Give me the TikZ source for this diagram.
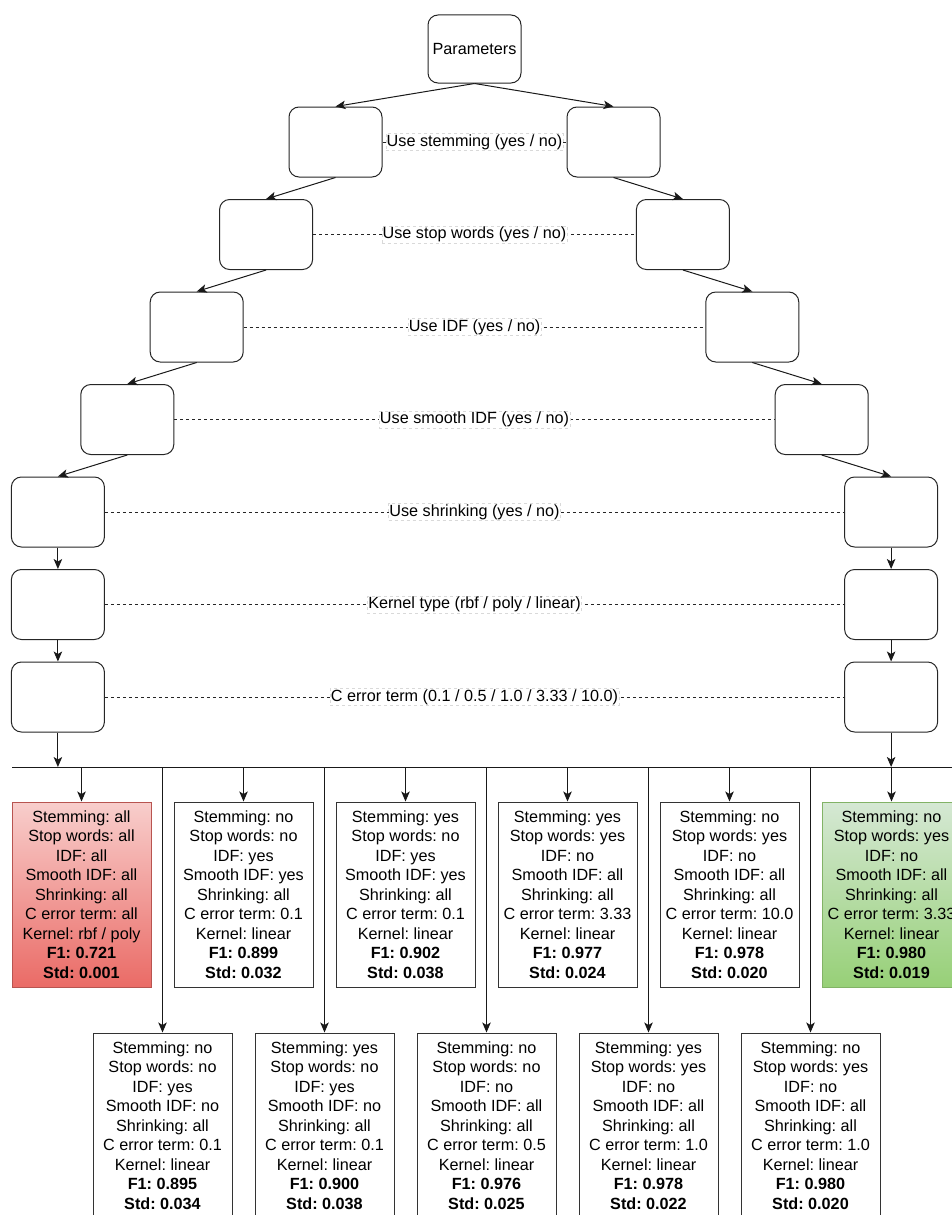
\documentclass[tikz,border=0pt]{standalone}
\usepackage{fontspec}
\setmainfont{Liberation Sans}
\usetikzlibrary{arrows.meta}
\frenchspacing

\definecolor{badtop}{HTML}{F8CECC}
\definecolor{badbot}{HTML}{EA6B66}
\definecolor{badline}{HTML}{B85450}
\definecolor{goodtop}{HTML}{D5E8D4}
\definecolor{goodbot}{HTML}{97D077}
\definecolor{goodline}{HTML}{82B366}

% Text of one result box
\newcommand\restxt[9]{Stemming: #1\\Stop words: #2\\IDF: #3\\Smooth IDF: #4\\Shrinking: #5\\C error term: #6\\Kernel: #7\\\textbf{F1: #8}\\\textbf{Std: #9}}

\begin{document}
\begin{tikzpicture}[x=1pt,y=-1pt,
  txt/.style={font=\fontsize{16.2}{19.44}\selectfont},
  choice/.style={draw=black!85, line width=1pt, rounded corners=10pt,
    minimum width=93pt, minimum height=70pt, inner sep=0pt, fill=white, txt},
  result/.style={draw=black!80, line width=1pt, minimum width=139pt,
    minimum height=185pt, inner sep=0pt, align=center, fill=white, txt},
  worst/.style={result, draw=badline, top color=badtop, bottom color=badbot},
  best/.style={result, draw=goodline, top color=goodtop, bottom color=goodbot},
  link/.style={draw=black!90, line width=1pt, -{Stealth[length=10pt,width=8.5pt,inset=2.5pt]}},
  guide/.style={draw=black!85, line width=0.9pt, dash pattern=on 3pt off 3pt},
  tag/.style={fill=white, draw=black!15, line width=0.5pt, inner xsep=0.8pt, inner ysep=1pt, txt},
  bus/.style={draw=black!90, line width=1pt}
]
\useasboundingbox (0,0) rectangle (951,1215);

% Root
\node[choice, minimum height=68pt] (P) at (474.5,49) {Parameters};

% Two branches of parameter choices
\node[choice] (L1) at (335.5,142) {};
\node[choice] (R1) at (613.5,142) {};
\node[choice] (L2) at (266.1,234.5) {};
\node[choice] (R2) at (682.9,234.5) {};
\node[choice] (L3) at (196.7,327) {};
\node[choice] (R3) at (752.3,327) {};
\node[choice] (L4) at (127.3,419.5) {};
\node[choice] (R4) at (821.7,419.5) {};
\node[choice] (L5) at (57.9,512) {};
\node[choice] (R5) at (891.1,512) {};
\node[choice] (L6) at (57.9,604.5) {};
\node[choice] (R6) at (891.1,604.5) {};
\node[choice] (L7) at (57.9,697) {};
\node[choice] (R7) at (891.1,697) {};

% Arrows down both branches
\draw[link] (P.south) -- (L1.north);
\draw[link] (P.south) -- (R1.north);
\foreach \a/\b in {1/2,2/3,3/4,4/5,5/6,6/7}{
  \draw[link] (L\a.south) -- (L\b.north);
  \draw[link] (R\a.south) -- (R\b.north);
}

% Dashed guides with the parameter names
\draw[guide] (L1.east) -- node[tag] {Use stemming (yes / no)} (R1.west);
\draw[guide] (L2.east) -- node[tag] {Use stop words (yes / no)} (R2.west);
\draw[guide] (L3.east) -- node[tag] {Use IDF (yes / no)} (R3.west);
\draw[guide] (L4.east) -- node[tag] {Use smooth IDF (yes / no)} (R4.west);
\draw[guide] (L5.east) -- node[tag] {Use shrinking (yes / no)} (R5.west);
\draw[guide] (L6.east) -- node[tag] {Kernel type (rbf / poly / linear)} (R6.west);
\draw[guide] (L7.east) -- node[tag] {C error term (0.1 / 0.5 / 1.0 / 3.33 / 10.0)} (R7.west);

% Distribution line
\coordinate (busW) at (12,767);
\coordinate (busE) at (960,767);
\draw[bus] (busW) -- (busE);
\draw[link] (L7.south) -- (L7.south |- busW);
\draw[link] (R7.south) -- (R7.south |- busW);

% Results, upper row
\node[worst]  (T1) at (81.5,894.5)  {\restxt{all}{all}{all}{all}{all}{all}{rbf / poly}{0.721}{0.001}};
\node[result] (T2) at (243.5,894.5) {\restxt{no}{no}{yes}{yes}{all}{0.1}{linear}{0.899}{0.032}};
\node[result] (T3) at (405.5,894.5) {\restxt{yes}{no}{yes}{yes}{all}{0.1}{linear}{0.902}{0.038}};
\node[result] (T4) at (567.5,894.5) {\restxt{yes}{yes}{no}{all}{all}{3.33}{linear}{0.977}{0.024}};
\node[result] (T5) at (729.5,894.5) {\restxt{no}{yes}{no}{all}{all}{10.0}{linear}{0.978}{0.020}};
\node[best]   (T6) at (891.5,894.5) {\restxt{no}{yes}{no}{all}{all}{3.33}{linear}{0.980}{0.019}};

% Results, lower row
\node[result] (B1) at (162.5,1125.5) {\restxt{no}{no}{yes}{no}{all}{0.1}{linear}{0.895}{0.034}};
\node[result] (B2) at (324.5,1125.5) {\restxt{yes}{no}{yes}{no}{all}{0.1}{linear}{0.900}{0.038}};
\node[result] (B3) at (486.5,1125.5) {\restxt{no}{no}{no}{all}{all}{0.5}{linear}{0.976}{0.025}};
\node[result] (B4) at (648.5,1125.5) {\restxt{yes}{yes}{no}{all}{all}{1.0}{linear}{0.978}{0.022}};
\node[result] (B5) at (810.5,1125.5) {\restxt{no}{yes}{no}{all}{all}{1.0}{linear}{0.980}{0.020}};

% Drops from the distribution line
\foreach \n in {T1,T2,T3,T4,T5,T6,B1,B2,B3,B4,B5}{
  \draw[link] (\n.north |- busW) -- (\n.north);
}
\end{tikzpicture}
\end{document}
